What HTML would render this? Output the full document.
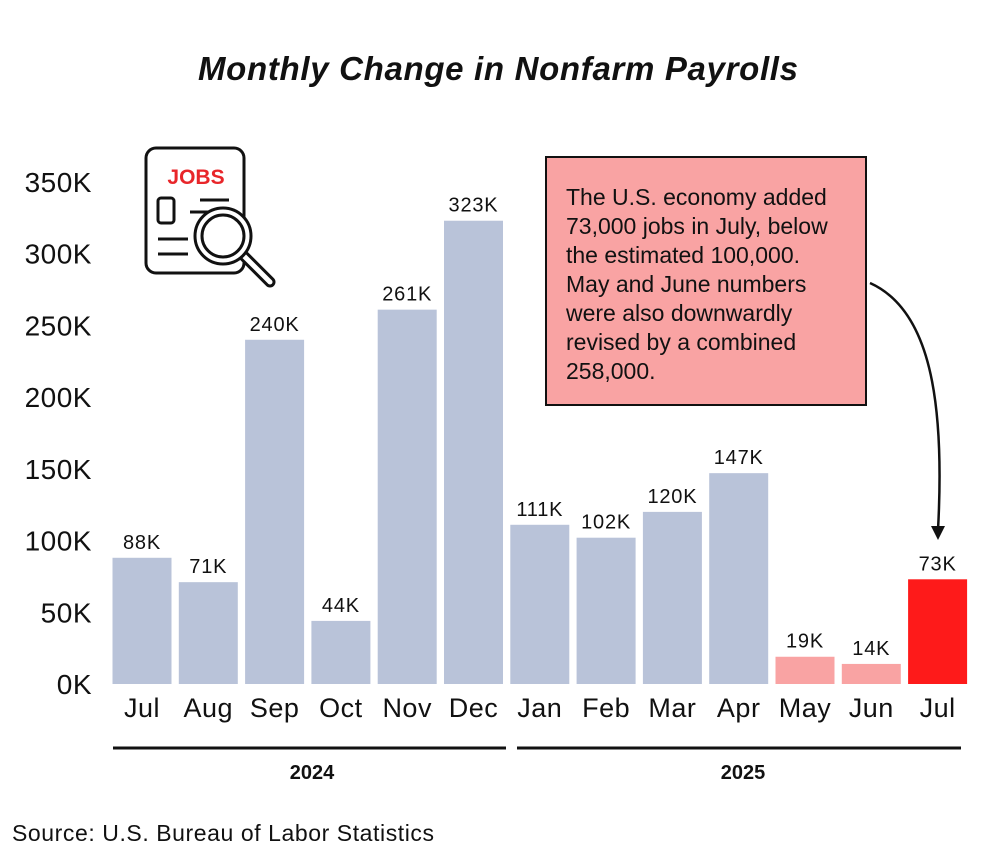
<!DOCTYPE html>
<html><head><meta charset="utf-8"><style>
body{margin:0;background:#fff;}
svg{display:block;font-family:"Liberation Sans",sans-serif;}
</style></head><body>
<svg id="chart" width="990" height="860" viewBox="0 0 990 860">
<text x="498" y="80" text-anchor="middle" font-size="33" font-weight="bold" font-style="italic" fill="#111" textLength="600">Monthly Change in Nonfarm Payrolls</text>
<g id="yaxis"></g>
<g id="bars"></g>
<g fill="none" stroke="#111" stroke-width="3">
<rect x="146" y="148" width="98" height="125" rx="10" fill="#fff"/>
<rect x="158" y="198" width="16" height="25" rx="3"/>
<line x1="200" y1="200" x2="229" y2="200"/><line x1="190" y1="212" x2="222" y2="212"/>
<line x1="158" y1="239" x2="188" y2="239"/><line x1="158" y1="254" x2="188" y2="254"/>
<line x1="244" y1="256" x2="270" y2="282" stroke-width="11" stroke-linecap="round"/>
<line x1="244" y1="256" x2="270" y2="282" stroke="#fff" stroke-width="5" stroke-linecap="round"/>
<circle cx="223" cy="236" r="28" fill="#fff"/><circle cx="223" cy="236" r="21"/>
<text x="196" y="184" text-anchor="middle" font-size="21" font-weight="bold" fill="#e8262a" stroke="none">JOBS</text>
</g>
<g>
<rect x="546" y="157" width="320" height="248" fill="#f9a3a3" stroke="#111" stroke-width="2"/>
<text font-size="23" fill="#111" x="566">
<tspan x="566" y="205">The U.S. economy added</tspan>
<tspan x="566" y="234">73,000 jobs in July, below</tspan>
<tspan x="566" y="263">the estimated 100,000.</tspan>
<tspan x="566" y="292">May and June numbers</tspan>
<tspan x="566" y="321">were also downwardly</tspan>
<tspan x="566" y="350">revised by a combined</tspan>
<tspan x="566" y="379">258,000.</tspan>
</text>
</g>
<path d="M870 283 C930 310 945 400 938 530" fill="none" stroke="#111" stroke-width="2.5"/>
<polygon points="931,526 945,526 938,540" fill="#111"/>
<line x1="113" y1="748" x2="506" y2="748" stroke="#111" stroke-width="3"/>
<line x1="517" y1="748" x2="961" y2="748" stroke="#111" stroke-width="3"/>
<text x="312" y="779" text-anchor="middle" font-size="20" font-weight="bold" fill="#111">2024</text>
<text x="743" y="779" text-anchor="middle" font-size="20" font-weight="bold" fill="#111">2025</text>
<text x="12" y="841" font-size="23" fill="#111" textLength="422">Source: U.S. Bureau of Labor Statistics</text>
</svg>
<script>
const months=["Jul","Aug","Sep","Oct","Nov","Dec","Jan","Feb","Mar","Apr","May","Jun","Jul"];
const values=[88,71,240,44,261,323,111,102,120,147,19,14,73];
const valueLabels=["88K","71K","240K","44K","261K","323K","111K","102K","120K","147K","19K","14K","73K"];
const colorKeys=["n","n","n","n","n","n","n","n","n","n","r","r","h"];
const yTicks=[0,50,100,150,200,250,300,350];
const NS="http://www.w3.org/2000/svg";
const y0=684,pxPer=(684-182)/350;
const y=v=>y0-v*pxPer;
const x=i=>142+i*66.3;
const colors={n:"#b9c3d9",r:"#f9a3a3",h:"#fe1a1a"};
function mk(t,a,p){const e=document.createElementNS(NS,t);for(const k in a)e.setAttribute(k,a[k]);p.appendChild(e);return e;}
const ya=document.getElementById("yaxis");
yTicks.forEach(t=>{const e=mk("text",{x:92,y:y(t)+10,"text-anchor":"end","font-size":"28",fill:"#111","letter-spacing":"0.5"},ya);


e.textContent=t+"K";});
const bg=document.getElementById("bars");
values.forEach((v,i)=>{
const r=mk("rect",{x:x(i)-29.5,y:y(v),width:59,height:y0-y(v),fill:colors[colorKeys[i]]},bg);


const l=mk("text",{x:x(i),y:y(v)-9,"text-anchor":"middle","font-size":"20",fill:"#111","letter-spacing":"0.8"},bg);


l.textContent=valueLabels[i];
const m=mk("text",{x:x(i),y:717,"text-anchor":"middle","font-size":"27",fill:"#111","letter-spacing":"0.5"},bg);


m.textContent=months[i];
});
</script>
</body></html>
